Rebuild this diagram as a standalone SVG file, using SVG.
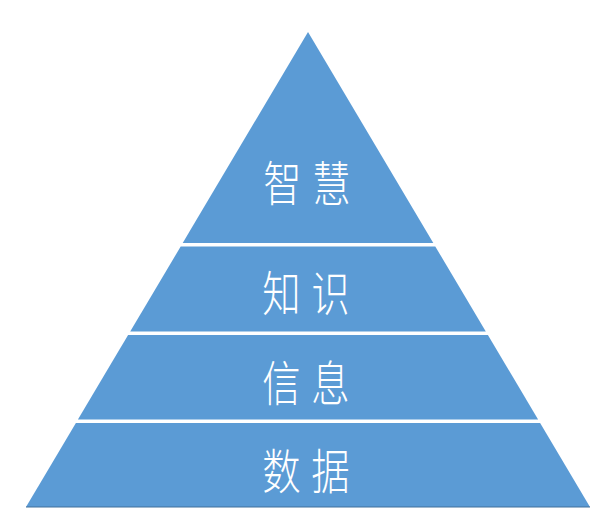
<svg xmlns="http://www.w3.org/2000/svg" width="610" height="526" viewBox="0 0 610 526">
  <style>
    .band { fill: #5B9BD5; }
    .base { stroke: #41719C; stroke-width: 1.2; fill: none; }
    .lbl { fill: #FFFFFF; font-family: "Noto Sans CJK SC", "Noto Sans", sans-serif; font-size: 48px; font-weight: 300; text-anchor: middle; }
  </style>
  <rect width="610" height="526" fill="#FFFFFF"/>
  <g id="wisdom">
    <polygon class="band" points="308,32 433.3,243 182.7,243"/>
    <text class="lbl" transform="translate(307,0) scale(0.8,1)" x="-30.6 30.6" y="201.5">智慧</text>
  </g>
  <g id="knowledge">
    <polygon class="band" points="180.7,246.5 435.3,246.5 485.8,331.5 130.2,331.5"/>
    <text class="lbl" transform="translate(306,0) scale(0.8,1)" x="-30.6 30.6" y="311.5">知识</text>
  </g>
  <g id="information">
    <polygon class="band" points="128.1,335 487.9,335 538.1,419.5 77.9,419.5"/>
    <text class="lbl" transform="translate(306,0) scale(0.8,1)" x="-30.6 30.6" y="401.5">信息</text>
  </g>
  <g id="data">
    <polygon class="band" points="75.9,423 540.1,423 590,507 26,507"/>
    <line class="base" x1="26" y1="507" x2="590" y2="507"/>
    <text class="lbl" transform="translate(306,0) scale(0.8,1)" x="-30.6 30.6" y="489.5">数据</text>
  </g>
</svg>
